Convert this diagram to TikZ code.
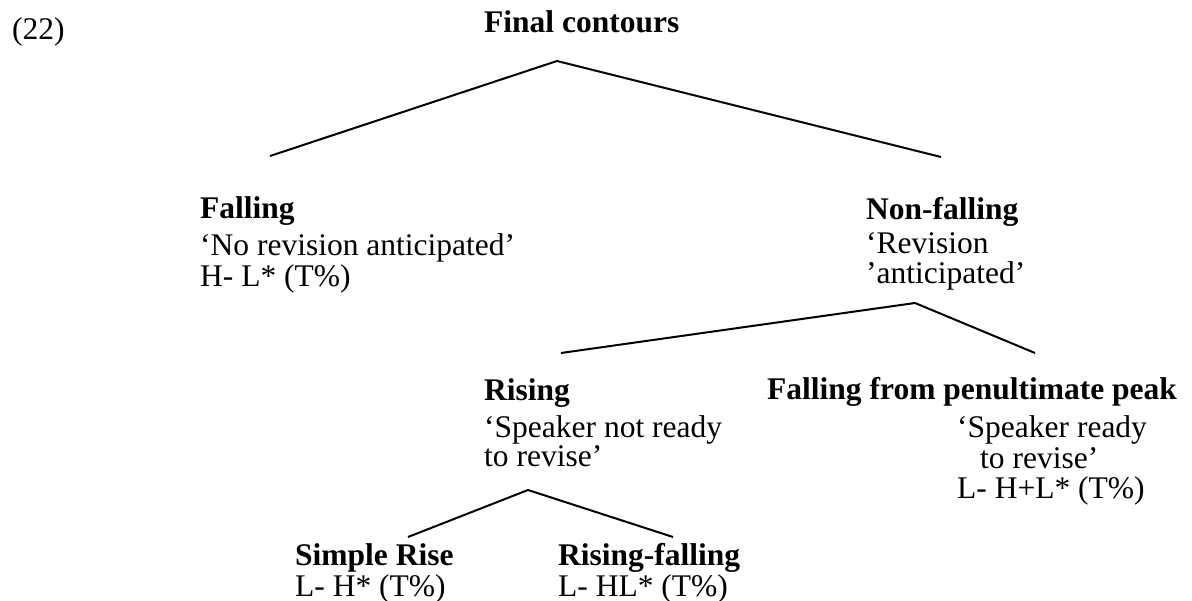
\documentclass[tikz,border=0pt]{standalone}
\usepackage{fontspec}
\setmainfont{Liberation Serif}
\begin{document}
\begin{tikzpicture}[x=1pt,y=-1pt,
  every node/.style={inner sep=0pt,anchor=base west,font=\fontsize{31.5}{31.5}\selectfont},
  hd/.style={font=\fontsize{31.5}{31.5}\selectfont\bfseries},
  branch/.style={line width=2pt}]
\useasboundingbox (0,0) rectangle (1192,601);
\node (num) at (12,40) {(22)};
\node[hd] (root) at (484,33) {Final contours};
\coordinate (a1) at (557,61);
\coordinate (a1l) at (270,156);
\coordinate (a1r) at (941,157);
\draw[branch] (a1l) -- (a1) -- (a1r);
% Falling
\node[hd] (fall) at (200,219) {Falling};
\node (fall2) at (200,256) {‘No revision anticipated’};
\node (fall3) at (200,287) {H- L* (T\%)};
% Non-falling
\node[hd] (nonf) at (866,220) {Non-falling};
\node (nonf2) at (866,254) {‘Revision};
\node (nonf3) at (866,284) {’anticipated’};
\coordinate (a2) at (915,303);
\coordinate (a2l) at (561,353);
\coordinate (a2r) at (1035,353);
\draw[branch] (a2l) -- (a2) -- (a2r);
% Rising
\node[hd] (ris) at (484,401) {Rising};
\node (ris2) at (484,438) {‘Speaker not ready};
\node (ris3) at (484,467) {to revise’};
% Falling from penultimate peak
\node[hd] (ffp) at (767,400) {Falling from penultimate peak};
\node (ffp2) at (957,438) {‘Speaker ready};
\node (ffp3) at (980,468) {to revise’};
\node (ffp4) at (957,498) {L- H+L* (T\%)};
\coordinate (a3) at (528,490);
\coordinate (a3l) at (408,537);
\coordinate (a3r) at (673,537);
\draw[branch] (a3l) -- (a3) -- (a3r);
% bottom
\node[hd] (sr) at (295,565) {Simple Rise};
\node (sr2) at (295,596) {L- H* (T\%)};
\node[hd] (rf) at (558,565) {Rising-falling};
\node (rf2) at (558,596) {L- HL* (T\%)};
\end{tikzpicture}
\end{document}
